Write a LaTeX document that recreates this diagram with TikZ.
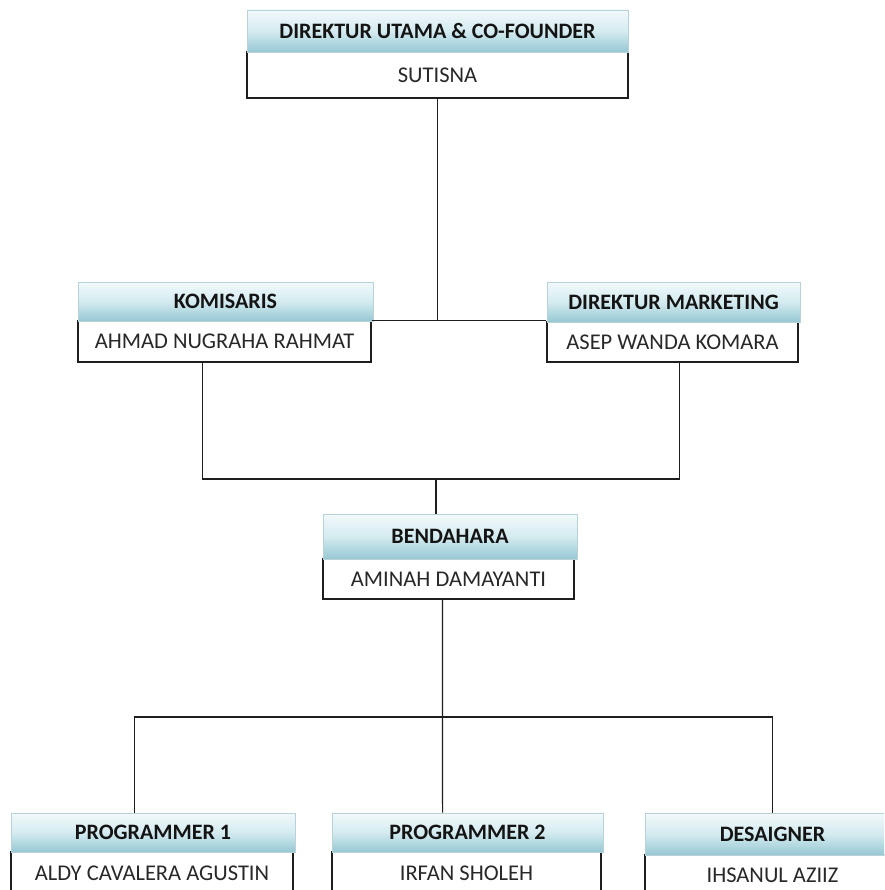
\documentclass[tikz,border=0pt]{standalone}
\usepackage{fontspec}
\setmainfont{Carlito}
\definecolor{hdtop}{RGB}{242,249,251}
\definecolor{hdmid}{RGB}{212,235,240}
\definecolor{hdbot}{RGB}{150,200,211}
\definecolor{hdborder}{RGB}{185,210,217}
\definecolor{nametext}{RGB}{40,40,40}
\definecolor{linecol}{RGB}{30,30,30}
\begin{document}
\begin{tikzpicture}[x=1pt,y=-1pt,
  hdr/.style={rectangle, draw=hdborder, line width=0.8pt, top color=hdtop, bottom color=hdbot, middle color=hdmid, inner sep=0pt,
    font=\fontsize{22}{26}\selectfont\bfseries, text=black!92},
  namebox/.style={rectangle, draw=linecol, fill=white, line width=1.2pt, inner sep=0pt,
    font=\fontsize{22.5}{26}\selectfont, text=nametext},
  conn/.style={draw=linecol, line width=1.2pt}]
\useasboundingbox (0,0) rectangle (884,890);
\fill[white] (0,0) rectangle (884,890);
\clip (0,0) rectangle (884,890);

% top
\node[namebox, minimum width=381pt, minimum height=46pt] (topN) at (437.5,75) {SUTISNA};
\node[hdr, minimum width=381pt, minimum height=42pt] (topH) at (437.5,31) {DIREKTUR UTAMA \& CO-FOUNDER};

% komisaris
\node[namebox, minimum width=293pt, minimum height=41pt] (komN) at (224.5,341.5) {AHMAD NUGRAHA RAHMAT};
\node[hdr, minimum width=295pt, minimum height=39pt] (komH) at (225.5,301.5) {KOMISARIS};

% direktur marketing
\node[namebox, minimum width=251pt, minimum height=40pt] (dmN) at (672.5,342) {ASEP WANDA KOMARA};
\node[hdr, minimum width=253pt, minimum height=40pt] (dmH) at (673.5,302) {DIREKTUR MARKETING};

% bendahara
\node[namebox, minimum width=251pt, minimum height=40pt] (benN) at (448.5,579) {AMINAH DAMAYANTI};
\node[hdr, minimum width=254pt, minimum height=45pt] (benH) at (450,536.5) {BENDAHARA};

% bottom row
\node[namebox, minimum width=282pt, minimum height=42pt] (p1N) at (152,873) {ALDY CAVALERA AGUSTIN};
\node[hdr, minimum width=284pt, minimum height=39pt] (p1H) at (153,832.5) {PROGRAMMER 1};
\node[namebox, minimum width=269pt, minimum height=42pt] (p2N) at (466.5,873) {IRFAN SHOLEH};
\node[hdr, minimum width=271pt, minimum height=39pt] (p2H) at (467.5,832.5) {PROGRAMMER 2};
\node[namebox, minimum width=255pt, minimum height=40pt] (dsN) at (772.5,875) {IHSANUL AZIIZ};
\node[hdr, minimum width=255pt, minimum height=42pt] (dsH) at (772.5,834) {DESAIGNER};

% connectors
\coordinate (j1) at (436,479);
\coordinate (j2) at (443,717);
\draw[conn] (topN.south) -- (topN.south |- komN.north east);
\draw[conn] (komN.north east) -- (komN.north east -| dmN.west);
\draw[conn] ([xshift=125pt]komN.south west) |- (j1) -| ([xshift=-119pt]dmN.south east);
\draw[conn] (j1) -- (benH.north -| j1);
\draw[conn] ([xshift=120pt]benN.south west) -- ([xshift=111pt]p2H.north west);
\draw[conn] ([xshift=124pt]p1H.north west) |- (j2) -| (dsH.north);
\end{tikzpicture}
\end{document}
